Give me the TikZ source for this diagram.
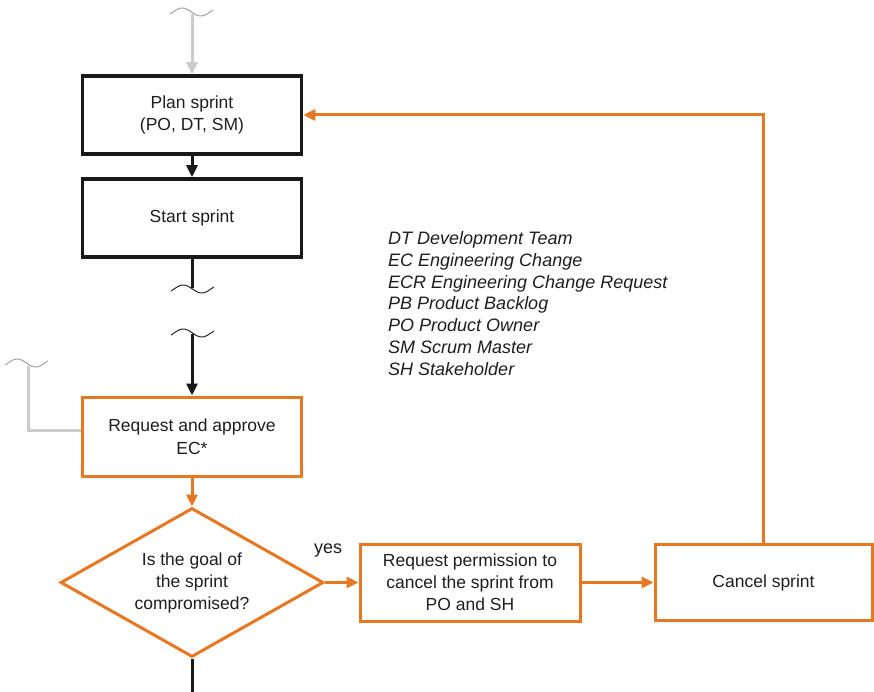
\documentclass[tikz,border=0pt]{standalone}
\usepackage{fontspec}
\setmainfont{Liberation Sans}
\usetikzlibrary{arrows.meta,shapes.geometric}
\definecolor{procorange}{RGB}{232,119,34}
\definecolor{flowgray}{RGB}{204,204,204}
\definecolor{wavegray}{RGB}{160,160,160}
\definecolor{inktext}{RGB}{30,30,30}
\tikzset{
  txt/.style={font=\fontsize{17.5}{22}\selectfont, text=inktext, align=center},
  blackbox/.style={txt, draw=black!90, line width=3.5pt, minimum width=219pt, minimum height=78pt, inner sep=0pt},
  orangebox/.style={txt, draw=procorange, line width=3pt, inner sep=0pt},
  tip/.style={-{Triangle[length=12pt,width=11pt]}},
  blackflow/.style={draw=black!90, line width=3pt},
  orangeflow/.style={draw=procorange, line width=3pt},
  grayflow/.style={draw=flowgray, line width=3pt},
  breakwave/.style={line width=1pt},
  legend/.style={font=\fontsize{18}{22}\selectfont\itshape, text=inktext, anchor=base west, inner sep=0pt},
}
% break mark: a short tilde-like wave starting at the given point
\newcommand{\breakwaveat}[3]{%
  \draw[breakwave,#3] plot[domain=0:1,samples=40,smooth]
    ({#1+43*\x},{#2-4*sin(420*\x-30)});}
\begin{document}
\begin{tikzpicture}[x=1pt,y=-1pt]
\useasboundingbox (0,0) rectangle (874,692);

% process steps
\node[blackbox] (plan) at (192,115) {\raisebox{-3pt}{\shortstack{Plan sprint\\[3pt](PO, DT, SM)}}};
\node[blackbox] (start) at (192,218) {\raisebox{-2.5pt}{Start sprint}};
\node[orangebox, minimum width=219pt, minimum height=79pt] (request) at (192,436.5)
  {\raisebox{-3.5pt}{\shortstack{Request and approve\\[4pt]EC*}}};
\node[orangebox, diamond, minimum width=263pt, minimum height=149pt, aspect=1.77] (goal) at (192,582.5)
  {Is the goal of\\the sprint\\compromised?};
\node[orangebox, minimum width=220pt, minimum height=77pt] (perm) at (470,582.5)
  {Request permission to\\cancel the sprint from\\PO and SH};
\node[orangebox, minimum width=217pt, minimum height=76pt] (cancel) at (763.5,582.5) {\raisebox{-1.5pt}{Cancel sprint}};

% abbreviations
\foreach \abbr [count=\i from 0] in {DT Development Team, EC Engineering Change,
    ECR Engineering Change Request, PB Product Backlog, PO Product Owner,
    SM Scrum Master, SH Stakeholder}
  \node[legend] (abbr\i) at (388,244.5+21.83*\i) {\abbr};

% free ends of the interrupted flows
\coordinate (topin) at (192,14);
\coordinate (startout) at (192,288);
\coordinate (reqin) at (192,334);
\coordinate (sidein) at (28,366);
\coordinate (goalout) at (192,692);

% break marks
\breakwaveat{170}{12}{wavegray}
\breakwaveat{171}{289}{black!85}
\breakwaveat{171}{333}{black!85}
\breakwaveat{5}{363}{wavegray}

% connectors
\draw[grayflow,tip] (topin) -- (plan.north);
\draw[blackflow,tip] (plan.south) -- (start.north);
\draw[blackflow] (start.south) -- (startout);
\draw[blackflow,tip] (reqin) -- (request.north);
\draw[grayflow] (sidein) |- ([yshift=6.5pt]request.west);
\draw[orangeflow,tip] (request.south) -- (goal.north);
\draw[blackflow] (goal.south) -- (goalout);
\draw[orangeflow,tip] (goal.east) -- (perm.west);
\node[txt, font=\fontsize{18}{22}\selectfont] (yes) at (328,551) {yes};
\draw[orangeflow,tip] (perm.east) -- (cancel.west);
\draw[orangeflow,tip] (cancel.north) |- (plan.east);
\end{tikzpicture}
\end{document}
